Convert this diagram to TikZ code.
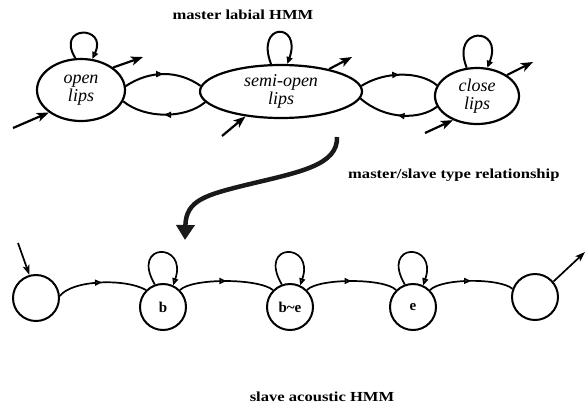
\documentclass[tikz,border=0pt]{standalone}
\usepackage{fontspec}
\setmainfont{Liberation Serif}
\newfontfamily\titlefont[FakeStretch=1.2]{Liberation Serif}
\usetikzlibrary{shapes.geometric,arrows.meta,decorations.markings}
\begin{document}
\begin{tikzpicture}[x=1pt,y=-1pt,
  stateE/.style={draw, line width=2.2pt, ellipse, inner sep=0pt, align=center,
    font=\fontsize{18}{17.5}\selectfont\itshape},
  stateC/.style={draw, circle, line width=2pt, minimum size=46pt, inner sep=0pt,
    font=\fontsize{15}{18}\selectfont\bfseries},
  arc/.style={line width=2pt,
    decoration={markings, mark=at position 0.5 with {\arrow{Triangle[open,fill=white,length=7pt,width=6pt]}}},
    postaction={decorate}},
  arcb/.style={arc, line width=1.7pt},
  selfloop/.style={line width=2pt, -{Triangle[open,fill=white,length=7pt,width=6pt]}},
  selfloopb/.style={selfloop, line width=1.7pt},
  inout/.style={line width=2.2pt, -{Stealth[length=12pt,width=9pt,inset=3pt]}},
  inoutb/.style={line width=1.7pt, -{Stealth[length=10pt,width=7pt,inset=2.5pt]}},
  title/.style={inner sep=0pt, font=\titlefont\fontsize{13.8}{16}\selectfont\bfseries},
]
\useasboundingbox (0,0) rectangle (586,408);

% titles
\node[title, anchor=base] (t1) at (243,19) {master labial HMM};
\node[title, anchor=base west] (t2) at (348,178) {master/slave type relationship};
\node[title, anchor=base] (t3) at (322,401) {slave acoustic HMM};

% master states
\node[stateE, minimum width=88pt, minimum height=62pt] (open) at (81,90) {open\\lips};
\node[stateE, minimum width=162pt, minimum height=53pt] (semi) at (281,91.5) {semi-open\\lips};
\node[stateE, minimum width=84pt, minimum height=56pt] (close) at (477,96) {close\\lips};

% transitions between master states
\draw[arc] (open.5) .. controls (150,70) and (178,70) .. (semi.176);
\draw[arc] (semi.188) .. controls (185,119) and (145,119) .. (open.345);
\draw[arc] (semi.4) .. controls (385,71) and (420,71) .. (close.165);
\draw[arc] (close.195) .. controls (420,120) and (385,120) .. (semi.355);

% self loops
\draw[selfloop] (open.100) .. controls (55,25) and (108,25) .. (open.70);
\draw[selfloop] (semi.110) .. controls (255,22) and (302,22) .. (semi.77);
\draw[selfloop] (close.110) .. controls (450,26) and (504,26) .. (close.70);

% entry / exit arrows
\coordinate (openIn) at (13,128);
\coordinate (openOut) at (143,57);
\coordinate (semiIn) at (222,136);
\coordinate (semiOut) at (352,57);
\coordinate (closeIn) at (425,133);
\coordinate (closeOut) at (533,62);
\draw[inout] (openIn) -- (open.215);
\draw[inout] (open.35) -- (openOut);
\draw[inout] (semiIn) -- (semi.215);
\draw[inout] (semi.25) -- (semiOut);
\draw[inout] (closeIn) -- (close.225);
\draw[inout] (close.35) -- (closeOut);

% master/slave arrow
\coordinate (msA) at (337,137);
\coordinate (msB) at (185,240);
\draw[line width=4.5pt, black!90, -{Triangle[length=15pt,width=18pt]}]
  (msA) .. controls (338,165) and (300,172) .. (250,184)
        .. controls (205,195) and (186,200) .. (msB);

% slave states
\node[stateC] (c0) at (36,298) {};
\node[stateC] (c1) at (163,307) {b};
\node[stateC] (c2) at (290,307) {b\textasciitilde e};
\node[stateC] (c3) at (413,307) {e};
\node[stateC] (c4) at (535,297) {};

\draw[arcb] (c0.5) .. controls (72,280) and (125,278) .. (c1.135);
\draw[arcb] (c1.45) .. controls (192,278) and (258,278) .. (c2.135);
\draw[arcb] (c2.45) .. controls (318,278) and (385,278) .. (c3.135);
\draw[arcb] (c3.45) .. controls (442,278) and (500,278) .. (c4.160);

\draw[selfloopb] (c1.110) .. controls (130,242) and (188,242) .. (c1.65);
\draw[selfloopb] (c2.110) .. controls (257,242) and (315,242) .. (c2.65);
\draw[selfloopb] (c3.110) .. controls (380,242) and (438,242) .. (c3.65);

\coordinate (bIn) at (18,243);
\coordinate (bOut) at (585,252);
\draw[inoutb] (bIn) -- (c0.106);
\draw[inoutb] (c4.40) -- (bOut);
\end{tikzpicture}
\end{document}
